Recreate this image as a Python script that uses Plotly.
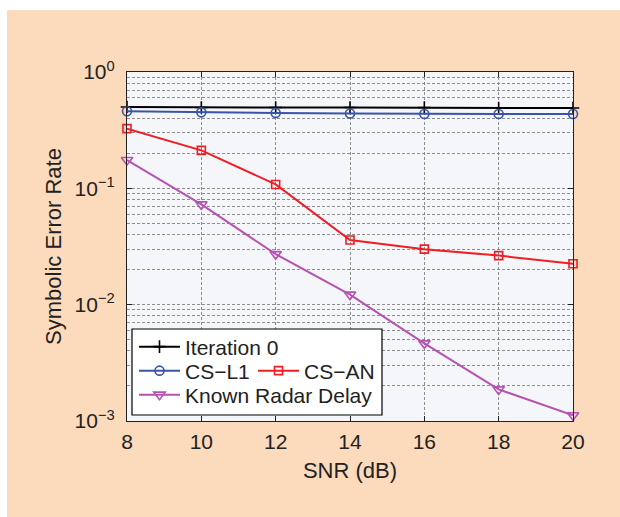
import plotly.graph_objects as go

snr = [8, 10, 12, 14, 16, 18, 20]
iter0 = [0.50, 0.495, 0.495, 0.495, 0.495, 0.49, 0.49]
cs_l1 = [0.46, 0.45, 0.445, 0.44, 0.435, 0.435, 0.435]
cs_an = [0.326, 0.212, 0.108, 0.036, 0.030, 0.0264, 0.0225]
known = [0.175, 0.0728, 0.0272, 0.0122, 0.00465, 0.00187, 0.00112]

y_tickvals = [0.001, 0.01, 0.1, 1]
y_ticktext = ["10<sup>\u22123</sup>", "10<sup>\u22122</sup>", "10<sup>\u22121</sup>", "10<sup>0</sup>"]
x_tickvals = [8, 10, 12, 14, 16, 18, 20]

minor_vals = [m * 10 ** e for e in (-3, -2, -1) for m in range(2, 10)]

FONT = "Liberation Sans, Arial, sans-serif"
GRID = "rgba(125,125,125,0.85)"
PEACH = "rgb(252,218,188)"

fig = go.Figure()
series = [
    ("Iteration 0", iter0, "black", "cross-thin-open", 9, "legend"),
    ("CS\u2212L1", cs_l1, "rgb(58,84,168)", "circle-open", 9, "legend2"),
    ("CS\u2212AN", cs_an, "rgb(238,30,36)", "square-open", 8, "legend3"),
    ("Known Radar Delay", known, "rgb(182,82,178)", "triangle-down-open", 10, "legend4"),
]
for name, vals, col, sym, sz, lg in series:
    fig.add_trace(go.Scatter(
        x=snr, y=vals, name=name, mode="lines+markers",
        line=dict(color=col, width=2),
        marker=dict(symbol=sym, size=sz, color=col, line=dict(width=1.6, color=col)),
        cliponaxis=False, legend=lg,
    ))

PW, PH = 620, 517
L, R, T, B = 127, 573, 72, 421   # plot area in page px
pw, ph = R - L, B - T

def px(x):
    return (x - L) / pw

def py(y):
    return (B - y) / ph

# white page margins at left and top (rest of the page is peach)
fig.add_shape(type="rect", xref="paper", yref="paper",
              x0=px(-5), x1=px(7), y0=py(530), y1=py(-5),
              fillcolor="white", line=dict(width=0), layer="below")
fig.add_shape(type="rect", xref="paper", yref="paper",
              x0=px(-5), x1=px(630), y0=py(10), y1=py(-5),
              fillcolor="white", line=dict(width=0), layer="below")
# legend box
fig.add_shape(type="rect", xref="paper", yref="paper",
              x0=px(132), x1=px(382), y0=py(415), y1=py(329),
              fillcolor="white", line=dict(color="black", width=1.2), layer="above")

lfont = dict(family=FONT, size=21, color="#222")
common = dict(bgcolor="rgba(0,0,0,0)", borderwidth=0, font=lfont,
              xanchor="left", yanchor="middle", itemwidth=41)
fig.update_layout(
    legend=dict(x=px(134), y=py(347), **common),
    legend2=dict(x=px(134), y=py(371), **common),
    legend3=dict(x=px(253), y=py(371), **common),
    legend4=dict(x=px(134), y=py(395), **common),
)

fig.update_layout(
    width=PW, height=PH,
    margin=dict(l=L, r=PW - R, t=T, b=PH - B, pad=0),
    paper_bgcolor=PEACH,
    plot_bgcolor="rgb(244,246,249)",
    font=dict(family=FONT, size=21, color="#222"),
    showlegend=True,
)
fig.update_xaxes(
    range=[8, 20], tickvals=x_tickvals, ticktext=[str(v) for v in x_tickvals],
    showline=True, linecolor="#222", linewidth=1.2, mirror="ticks",
    ticks="inside", ticklen=5, tickcolor="#222",
    showgrid=True, gridcolor=GRID, griddash="3px,2px", gridwidth=1,
    zeroline=False, tickfont=dict(size=21), ticklabelstandoff=2,
    title=dict(text="SNR (dB)", font=dict(size=22), standoff=10),
)
fig.update_yaxes(
    type="log", range=[-3, 0], tickvals=y_tickvals, ticktext=y_ticktext,
    showline=True, linecolor="#222", linewidth=1.2, mirror="ticks",
    ticks="inside", ticklen=5, tickcolor="#222",
    showgrid=True, gridcolor=GRID, griddash="3px,2px", gridwidth=1,
    minor=dict(tickmode="array", tickvals=minor_vals, showgrid=True,
               gridcolor=GRID, griddash="3px,2px", gridwidth=1, ticks=""),
    zeroline=False, tickfont=dict(size=21), ticklabelstandoff=7,
    title=dict(text="Symbolic Error Rate", font=dict(size=22), standoff=6),
)

fig.write_html(
    "out.html",
    config={"displayModeBar": False},
    post_script="document.body.style.margin='0';document.body.style.overflow='hidden';document.body.style.background='rgb(252,218,188)';",
)
